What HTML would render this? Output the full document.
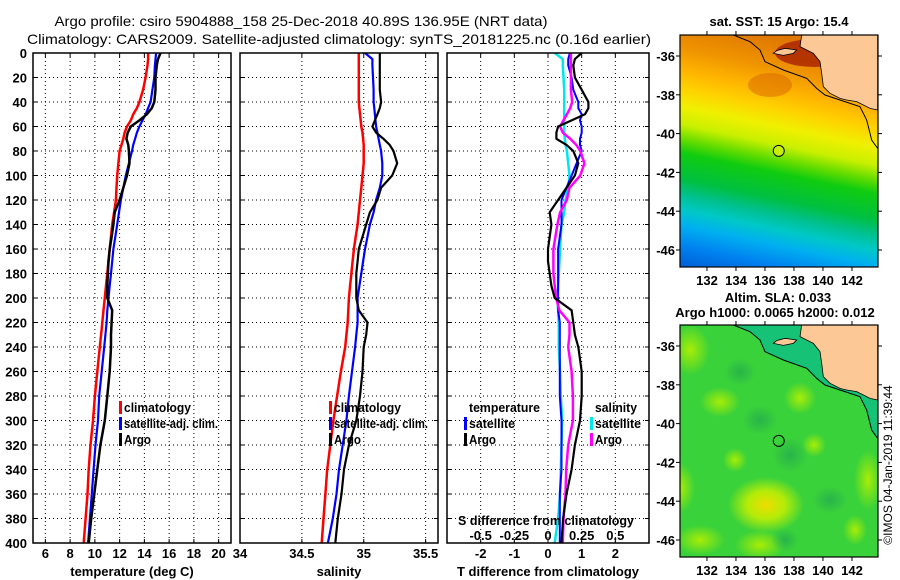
<!DOCTYPE html>
<html><head><meta charset="utf-8">
<style>
html,body{margin:0;padding:0;background:#fff;}
svg{display:block;font-family:"Liberation Sans",sans-serif;}
.tk{font-size:13px;font-weight:bold;fill:#000;}
.lg{font-size:13px;font-weight:bold;fill:#000;}
</style></head>
<body>
<svg id="fig" width="900" height="580" viewBox="0 0 900 580">
<rect width="900" height="580" fill="#fff"/>
<text x="301" y="26" text-anchor="middle" font-size="14" textLength="493" lengthAdjust="spacingAndGlyphs">Argo profile: csiro 5904888_158 25-Dec-2018 40.89S 136.95E (NRT data)</text>
<text x="339" y="44" text-anchor="middle" font-size="14" textLength="624" lengthAdjust="spacingAndGlyphs">Climatology: CARS2009. Satellite-adjusted climatology: synTS_20181225.nc (0.16d earlier)</text>
<g id="plots"></g>
<g id="maps"></g>
<text transform="translate(892,465) rotate(-90)" text-anchor="middle" font-size="12">©IMOS 04-Jan-2019 11:39:44</text>
</svg>
<script>
const depths=[0,5,10,20,30,40,45,50,55,60,65,70,75,80,90,100,110,120,130,140,150,160,170,180,190,200,210,220,230,240,260,280,300,320,340,360,380,400];
const tempClim=[14.3,14.3,14.25,14.1,13.9,13.6,13.4,13.1,12.9,12.6,12.4,12.3,12.15,12.0,11.9,11.8,11.75,11.7,11.55,11.4,11.3,11.2,11.1,11.0,10.9,10.8,10.7,10.6,10.5,10.4,10.2,10.0,9.85,9.65,9.5,9.4,9.25,9.1];
const tempSat=[14.95,14.9,14.85,14.8,14.65,14.5,14.3,14.1,13.85,13.6,13.4,13.25,13.1,13.0,12.75,12.5,12.3,12.1,11.95,11.8,11.65,11.5,11.4,11.3,11.2,11.1,11.0,10.95,10.85,10.75,10.55,10.35,10.25,10.05,9.9,9.75,9.6,9.45];
const tempArgo=[15.3,15.1,15.0,14.9,14.9,14.8,14.6,14.2,13.6,12.9,12.65,12.55,12.7,12.75,12.8,12.6,12.3,12.0,11.6,11.5,11.35,11.2,11.1,11.05,11.0,11.0,11.4,11.35,11.3,11.3,11.2,11.0,10.8,10.45,10.2,9.95,9.7,9.5];
const salClim=[34.96,34.96,34.96,34.96,34.96,34.96,34.965,34.97,34.975,34.98,34.99,34.995,35.0,35.0,35.0,34.99,34.98,34.97,34.96,34.95,34.935,34.92,34.91,34.9,34.89,34.88,34.875,34.87,34.86,34.85,34.815,34.785,34.755,34.73,34.705,34.69,34.675,34.66];
const salSat=[35.01,35.07,35.07,35.075,35.08,35.08,35.085,35.09,35.095,35.1,35.11,35.12,35.13,35.14,35.15,35.15,35.13,35.1,35.08,35.05,35.03,35.01,34.995,34.98,34.965,34.95,34.95,34.95,34.94,34.93,34.905,34.88,34.86,34.83,34.8,34.78,34.75,34.71];
const salArgo=[35.13,35.13,35.13,35.13,35.13,35.14,35.13,35.11,35.09,35.07,35.1,35.16,35.21,35.24,35.27,35.23,35.14,35.11,35.05,35.02,34.99,34.96,34.95,34.94,34.94,34.94,34.96,35.03,35.02,35.0,34.99,34.97,34.94,34.88,34.84,34.82,34.79,34.77];
const depthTicks=[0,20,40,60,80,100,120,140,160,180,200,220,240,260,280,300,320,340,360,380,400];
const tempTicks=[6,8,10,12,14,16,18,20];
const salTicks=[34,34.5,35,35.5];
const salTickLabels=["34","34.5","35","35.5"];
const tdiffTicks=[-2,-1,0,1,2];
const sdiffTicks=[-0.5,-0.25,0,0.25,0.5];
const lonTicks=[132,134,136,138,140,142];
const latTicks=[-36,-38,-40,-42,-44,-46];
const argoLon=[136.95], argoLat=[-40.89];

const NS="http://www.w3.org/2000/svg";
function mk(tag,attrs,parent){const e=document.createElementNS(NS,tag);for(const k in attrs)e.setAttribute(k,attrs[k]);parent.appendChild(e);return e;}
const plots=document.getElementById('plots');
const Y0=53,Y1=543;
const yD=d=>Y0+(d/400)*(Y1-Y0);
const panels=[
 {name:'temperature',x0:33,x1:231,v0:5,v1:21,ticks:tempTicks,labels:tempTicks.map(String),title:'temperature (deg C)'},
 {name:'salinity',x0:240,x1:438,v0:34,v1:35.6,ticks:salTicks,labels:salTickLabels,title:'salinity'},
 {name:'difference',x0:447,x1:649,v0:-3,v1:3,ticks:tdiffTicks,labels:tdiffTicks.map(String),title:'T difference from climatology'}
];
panels.forEach((p,i)=>{
 p.sx=v=>p.x0+(v-p.v0)/(p.v1-p.v0)*(p.x1-p.x0);
 const g=mk('g',{},plots);
 
 
 depthTicks.forEach(d=>{
  if(d>0&&d<400){const l=mk('line',{x1:p.x0,x2:p.x1,y1:yD(d),y2:yD(d),stroke:'#000','stroke-dasharray':'1,3','stroke-width':1},g);
  }
  mk('line',{x1:p.x0,x2:p.x0+4,y1:yD(d),y2:yD(d),stroke:'#000'},g);
  mk('line',{x1:p.x1,x2:p.x1-4,y1:yD(d),y2:yD(d),stroke:'#000'},g);
  if(i===0){const t=mk('text',{x:27,y:yD(d)+5,'text-anchor':'end',class:'tk'},g);t.textContent=d;
   }
 });
 p.ticks.forEach((v,j)=>{
  const x=p.sx(v);
  if(x>p.x0+1){const l=mk('line',{x1:x,x2:x,y1:Y0,y2:Y1,stroke:'#000','stroke-dasharray':'1,3','stroke-width':1},g);
   }
  mk('line',{x1:x,x2:x,y1:Y1,y2:Y1-4,stroke:'#000'},g);
  mk('line',{x1:x,x2:x,y1:Y0,y2:Y0+4,stroke:'#000'},g);
  const t=mk('text',{x:x,y:558,'text-anchor':'middle',class:'tk'},g);t.textContent=p.labels[j];
  
 });
 const tt=mk('text',{x:(p.x0+p.x1)/2,y:576,'text-anchor':'middle',class:'tk'},g);tt.textContent=p.title;
 
 p.g=g;
});
function series(p,vals,color,w,name){
 const pts=vals.map((v,k)=>p.sx(v).toFixed(1)+','+yD(depths[k]).toFixed(1)).join(' ');
 const pl=mk('polyline',{points:pts,fill:'none',stroke:color,'stroke-width':w,'stroke-linejoin':'round'},p.g);
 
 
}
const P=panels;
series(P[0],tempClim,'#ff0000',2.5,'temp-climatology-line');
series(P[0],tempSat,'#0000ff',2.2,'temp-satellite-line');
series(P[0],tempArgo,'#000000',2.5,'temp-argo-line');
series(P[1],salClim,'#ff0000',2.5,'sal-climatology-line');
series(P[1],salSat,'#0000ff',2.2,'sal-satellite-line');
series(P[1],salArgo,'#000000',2.2,'sal-argo-line');
const sdScale=v=>v*4;
series(P[2],salSat.map((v,k)=>sdScale(v-salClim[k])),'#00e5ee',2.5,'sdiff-satellite-line');
series(P[2],tempSat.map((v,k)=>v-tempClim[k]),'#0000ff',2,'tdiff-satellite-line');
series(P[2],salArgo.map((v,k)=>sdScale(v-salClim[k])),'#ff00ff',2.5,'sdiff-argo-line');
series(P[2],tempArgo.map((v,k)=>v-tempClim[k]),'#000000',2.2,'tdiff-argo-line');
const sdt=mk('text',{x:546,y:525,'text-anchor':'middle',class:'tk',textLength:176,lengthAdjust:'spacingAndGlyphs'},P[2].g);sdt.textContent='S difference from climatology';

sdiffTicks.forEach(v=>{const t=mk('text',{x:P[2].sx(sdScale(v)),y:540,'text-anchor':'middle',class:'tk'},P[2].g);t.textContent=String(v);
 });
panels.forEach(p=>{const r=mk('rect',{x:p.x0,y:Y0,width:p.x1-p.x0,height:Y1-Y0,fill:'none',stroke:'#000','stroke-width':1.5},p.g);
 });
function leg(g,x,y,color,label,name,w){
 const lg=mk('g',{},g);
 
 if(color)mk('rect',{x:x-5,y:y-11,width:3,height:13,fill:color},lg);
 const t=mk('text',{x:x,y:y,class:'lg',textLength:w,lengthAdjust:'spacingAndGlyphs'},lg);t.textContent=label;
}
leg(P[0].g,124,412,'#ff0000','climatology','legend-climatology',67);
leg(P[0].g,124,428,'#0000ff','satellite-adj. clim.','legend-satellite-adj',94);
leg(P[0].g,124,444,'#000000','Argo','legend-argo',27);
leg(P[1].g,334,412,'#ff0000','climatology','legend-climatology',67);
leg(P[1].g,334,428,'#0000ff','satellite-adj. clim.','legend-satellite-adj',94);
leg(P[1].g,334,444,'#000000','Argo','legend-argo',27);
leg(P[2].g,469,412,null,'temperature','legend-temperature-header',71);
leg(P[2].g,469,428,'#0000ff','satellite','legend-t-satellite',46);
leg(P[2].g,469,444,'#000000','Argo','legend-t-argo',27);
leg(P[2].g,595,412,null,'salinity','legend-salinity-header',42);
leg(P[2].g,595,428,'#00e5ee','satellite','legend-s-satellite',46);
leg(P[2].g,595,444,'#ff00ff','Argo','legend-s-argo',27);

// ---- maps ----
const maps=document.getElementById('maps');
const MX0=680,MX1=878;
const mx=lon=>MX0+(lon-130.14)*14.5;
const land=[[455,105],[450,140],[470,150],[490,160],[510,185],[515,220],[520,260],[540,280],[570,295],[590,300],[620,305],[660,325],[683,330],[683,105]];
const island=[[370,160],[380,152],[405,145],[440,150],[430,160],[400,166]];
const contour=[[250,105],[300,125],[330,150],[345,185],[400,210],[470,235],[500,265],[525,285],[570,300],[630,320],[650,360],[665,420],[683,445]];
function mapPanel(top,name,kind){
 const my=lat=>top+21+(-36-lat)*19.4;
 const zx=z=>650+z/3, zy=z=>top+(z-105)/3;
 const H=232;
 const g=mk('g',{},maps);
 
 const cid='clip'+top;
 const cp=mk('clipPath',{id:cid},g);mk('rect',{x:MX0,y:top,width:MX1-MX0,height:H},cp);
 const inner=mk('g',{'clip-path':'url(#'+cid+')'},g);
 const defs=mk('defs',{},g);
 const shelf=contour.map(p=>zx(p[0])+','+zy(p[1])).join(' ')+' 880,'+top;
 if(kind==='sst'){
  const gr=mk('linearGradient',{id:'sstg',gradientUnits:'userSpaceOnUse',x1:712,y1:top-10,x2:660,y2:top+H+5},defs);
  [[0,'#e07800'],[0.12,'#f09600'],[0.2,'#ffb400'],[0.27,'#ffd200'],[0.34,'#f0f000'],[0.41,'#c8f000'],[0.47,'#60dc00'],[0.52,'#10cc10'],[0.62,'#00c040'],[0.68,'#00c08c'],[0.74,'#00c8c8'],[0.8,'#00b0f0'],[0.88,'#0082f0'],[1,'#0050c8']].forEach(s=>mk('stop',{offset:s[0],'stop-color':s[1]},gr));
  mk('rect',{x:MX0,y:top,width:MX1-MX0,height:H,fill:'url(#sstg)'},inner);
  mk('ellipse',{cx:815,cy:top+18,rx:40,ry:14,fill:'#a82000',opacity:0.8},inner);
  mk('ellipse',{cx:845,cy:top+40,rx:14,ry:14,fill:'#c84000',opacity:0.6},inner);
  mk('ellipse',{cx:770,cy:top+50,rx:22,ry:12,fill:'#d86400',opacity:0.5},inner);
 } else {
  mk('rect',{x:MX0,y:top,width:MX1-MX0,height:H,fill:'#3ad23a'},inner);
  const rg=mk('radialGradient',{id:'blob'},defs);
  mk('stop',{offset:0,'stop-color':'#f0dc00'},rg);mk('stop',{offset:0.5,'stop-color':'#c8f000','stop-opacity':0.85},rg);mk('stop',{offset:1,'stop-color':'#c8f000','stop-opacity':0},rg);
  const rg2=mk('radialGradient',{id:'blob2'},defs);
  mk('stop',{offset:0,'stop-color':'#b4f000','stop-opacity':0.9},rg2);mk('stop',{offset:1,'stop-color':'#b4f000','stop-opacity':0},rg2);
  const rg3=mk('radialGradient',{id:'blob3'},defs);
  mk('stop',{offset:0,'stop-color':'#20a850','stop-opacity':0.7},rg3);mk('stop',{offset:1,'stop-color':'#20a850','stop-opacity':0},rg3);
  [[766,505,38,28,'blob'],[690,350,20,25,'blob2'],[720,402,20,15,'blob2'],[800,398,16,16,'blob2'],[814,445,12,12,'blob2'],[735,460,12,12,'blob2'],[680,488,15,25,'blob2'],[868,480,14,30,'blob2'],[760,545,25,15,'blob2'],[700,540,25,15,'blob2'],[855,530,12,15,'blob2'],
   [790,455,18,18,'blob3'],[760,420,18,15,'blob3'],[785,540,14,12,'blob3'],[830,500,18,14,'blob3'],[740,372,16,14,'blob3']].forEach(b=>{
   const e=mk('ellipse',{cx:b[0],cy:b[1],rx:b[2],ry:b[3],fill:'url(#'+b[4]+')'},inner);});
  mk('polygon',{points:shelf,fill:'#10c080',opacity:0.85},inner);
 }
 mk('polygon',{points:land.map(p=>zx(p[0])+','+zy(p[1])).join(' '),fill:'#fcc896',stroke:'#000','stroke-width':0.8},inner);
 mk('polygon',{points:island.map(p=>zx(p[0])+','+zy(p[1])).join(' '),fill:'#fcc896',stroke:'#000','stroke-width':0.8},inner);
 mk('polyline',{points:contour.map(p=>zx(p[0])+','+zy(p[1])).join(' '),fill:'none',stroke:'#000','stroke-width':1},inner);
 const c=mk('circle',{cx:mx(argoLon[0]),cy:my(argoLat[0]),r:5.5,fill:kind==='sst'?'#c8f000':'none',stroke:'#000','stroke-width':1},g);
 
 mk('rect',{x:MX0,y:top,width:MX1-MX0,height:H,fill:'none',stroke:'#000','stroke-width':1.2},g);
 latTicks.forEach(l=>{const y=my(l);
  mk('line',{x1:MX0-4,x2:MX0,y1:y,y2:y,stroke:'#000'},g);mk('line',{x1:MX1,x2:MX1+4,y1:y,y2:y,stroke:'#000'},g);
  const t=mk('text',{x:675,y:y+5,'text-anchor':'end',class:'tk'},g);t.textContent=l;
  });
 lonTicks.forEach(l=>{const x=mx(l);
  mk('line',{x1:x,x2:x,y1:top+H,y2:top+H+4,stroke:'#000'},g);mk('line',{x1:x,x2:x,y1:top,y2:top-4,stroke:'#000'},g);
  const t=mk('text',{x:x,y:top+H+18,'text-anchor':'middle',class:'tk'},g);t.textContent=l;
  });
 return g;
}
const m1=mapPanel(35,'sst-map','sst');
const m2=mapPanel(325,'sla-map','sla');
function label(x,y,txt,name){const t=mk('text',{x:x,y:y,'text-anchor':'middle',class:'tk'},maps);t.textContent=txt;
 }
label(779,26,'sat. SST: 15 Argo: 15.4','sst-map-title');
label(778,302,'Altim. SLA: 0.033','sla-map-title');
label(775,317,'Argo h1000: 0.0065 h2000: 0.012','sla-map-subtitle');
</script>
</body></html>
